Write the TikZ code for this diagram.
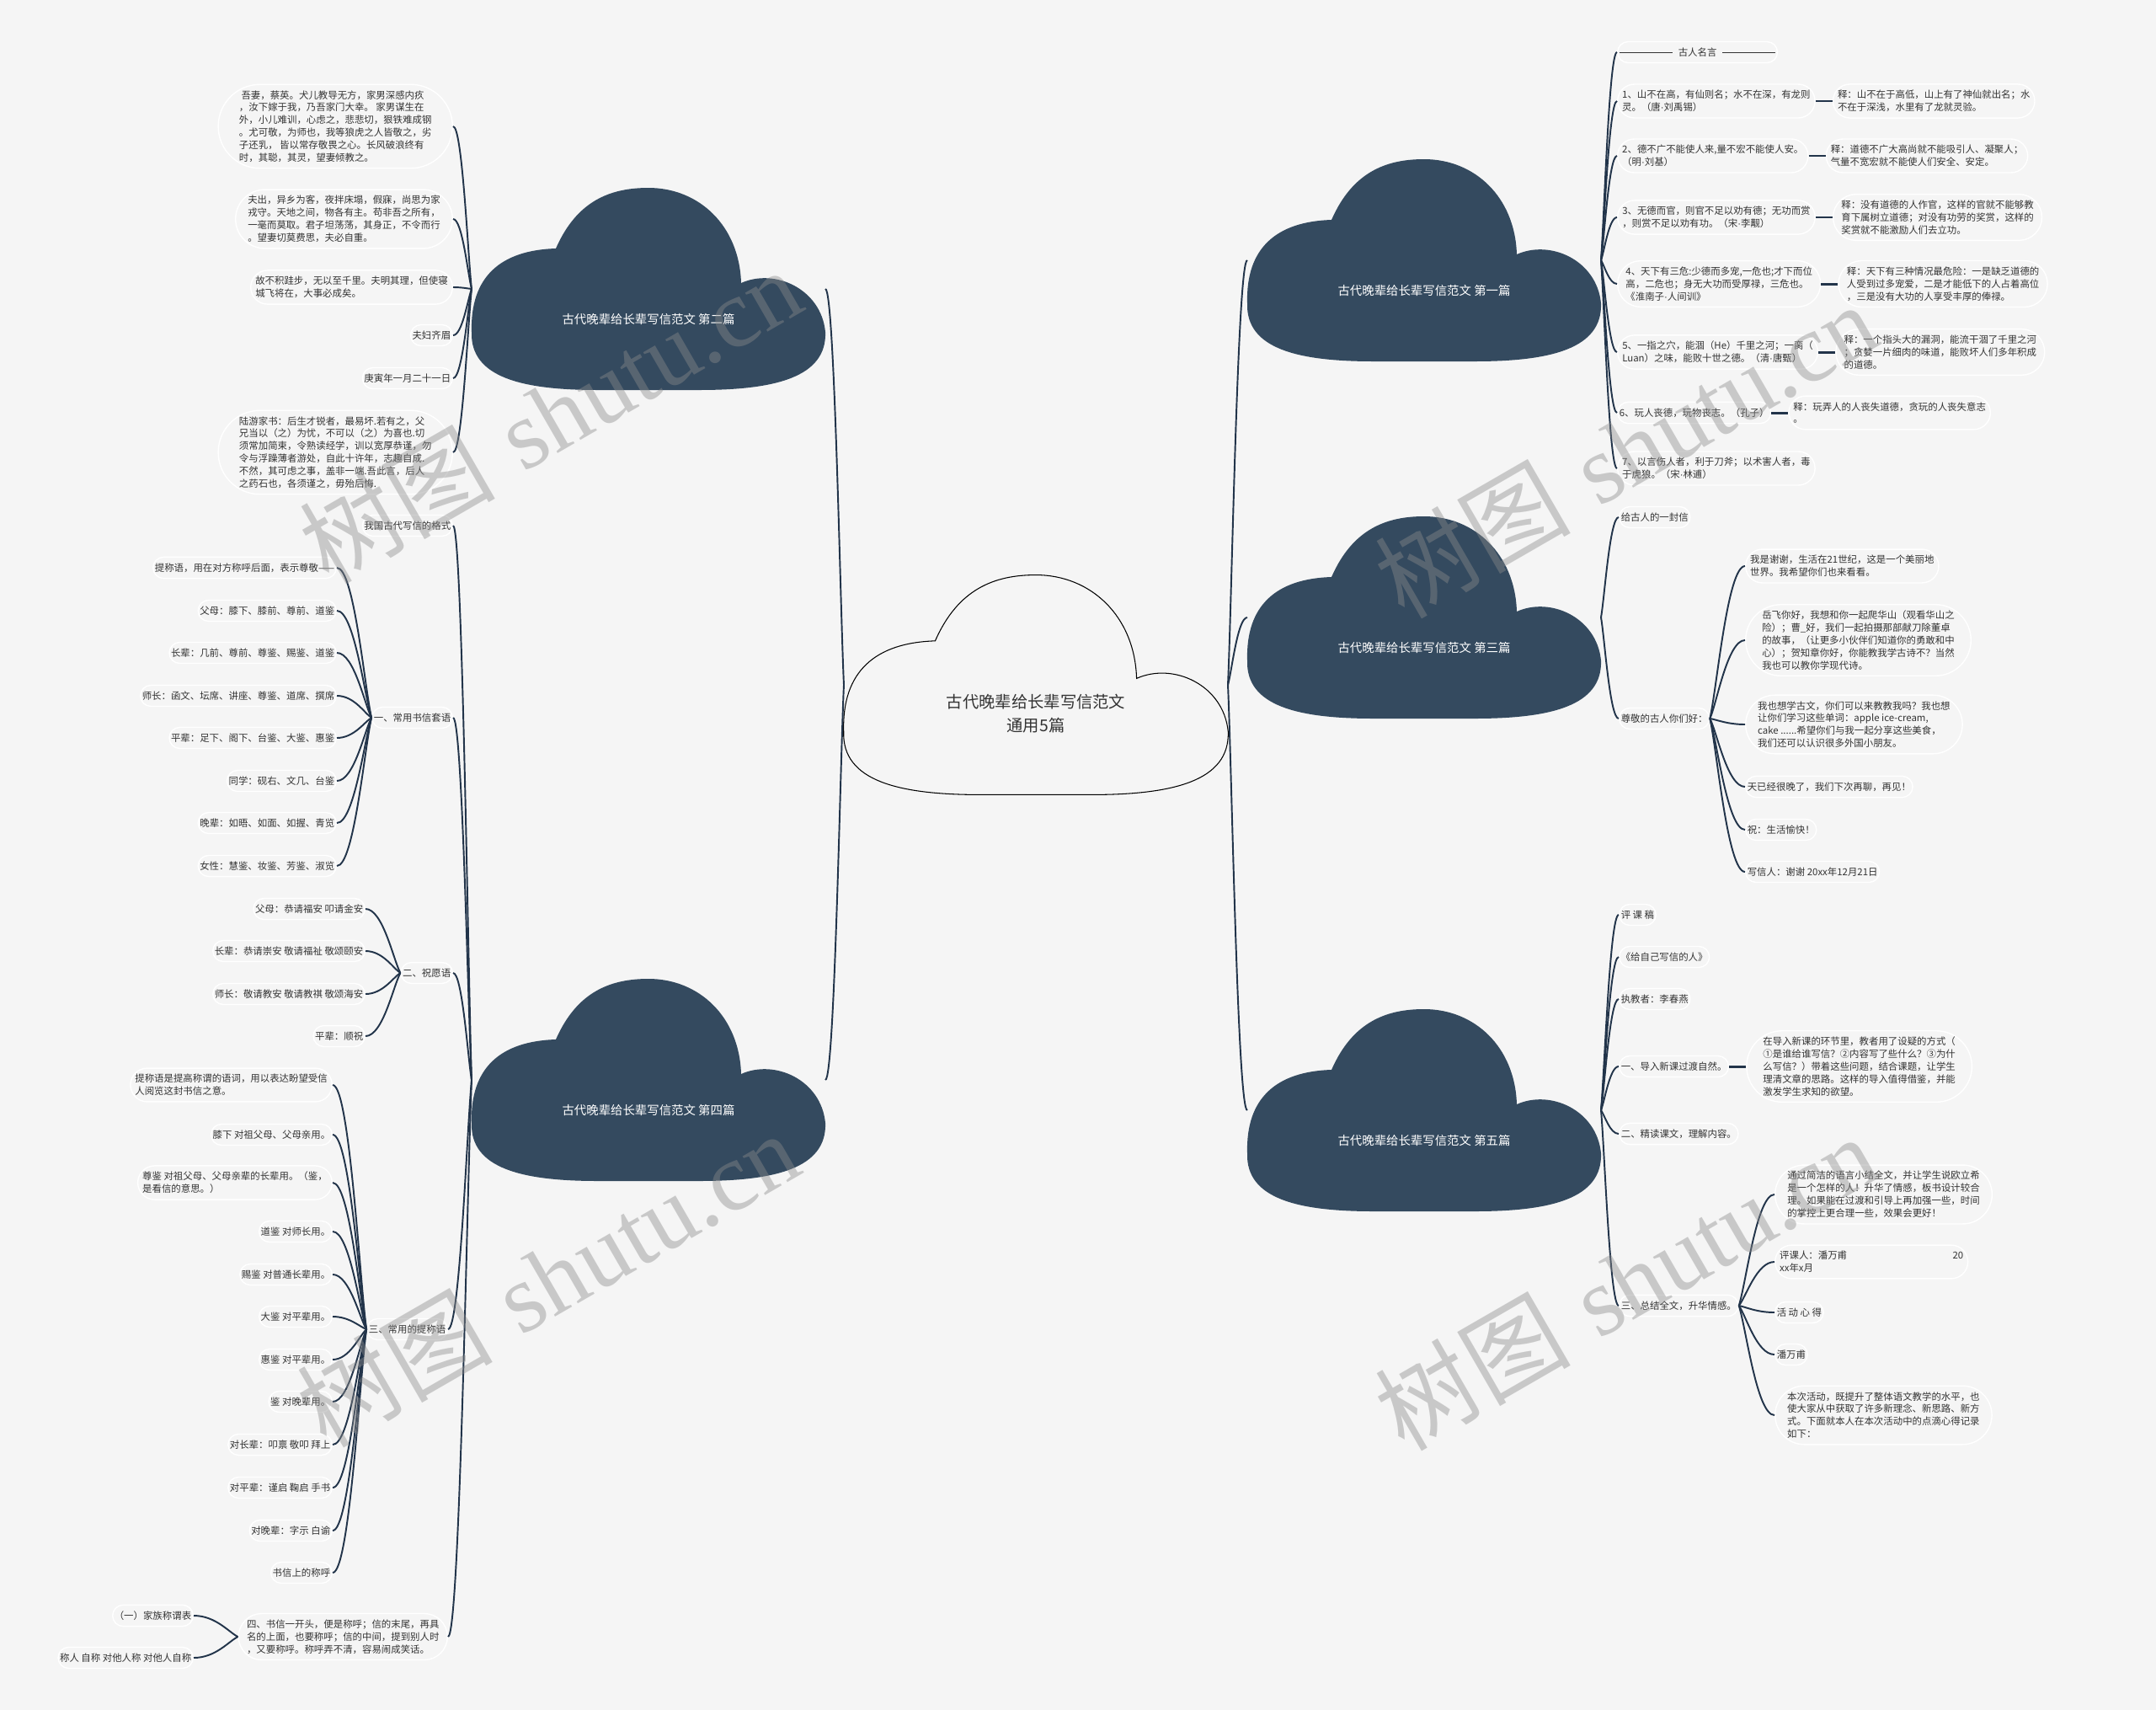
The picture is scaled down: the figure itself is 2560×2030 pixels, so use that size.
\documentclass[tikz,border=0pt]{standalone}
\usepackage{fontspec}
\newfontfamily\cjk{Noto Sans CJK SC}
\newfontfamily\wmserif{Liberation Serif}
\newfontfamily\latinsans{Liberation Sans}
\newcommand\dotsep{{\latinsans ·}}
\usetikzlibrary{shapes,calc,positioning}
\definecolor{bgpaper}{HTML}{F5F5F5}
\definecolor{cloudblue}{HTML}{344A5F}
\definecolor{linkblue}{HTML}{22344A}
\definecolor{inktext}{HTML}{333333}
\tikzset{cloudshape/.pic={
  \path[pic actions] (-110,-48) .. controls (-85,-105) and (-45,-120) .. (0,-120)
    .. controls (60,-120) and (108,-75) .. (110,-7)
    .. controls (150,-25) and (205,0) .. (210,51)
    .. controls (212,105) and (150,120) .. (60,120)
    -- (-60,120)
    .. controls (-150,120) and (-212,105) .. (-210,51)
    .. controls (-212,-15) and (-175,-46) .. (-110,-48) -- cycle;
}}

\begin{document}
\begin{tikzpicture}[x=0.2mm, y=-0.2mm, font=\cjk] % Styles
\tikzstyle{leaf}=[shape=rounded rectangle, draw=white, line width=0.8pt, text=inktext, align=left, inner xsep=0.5pt, inner ysep=4.1pt, font=\cjk\fontsize{6.5pt}{8.45pt}\selectfont]
\tikzstyle{cloudbox}=[inner sep=0pt, outer sep=0pt, minimum width=84mm, minimum height=48mm]
\tikzstyle{cloudtext}=[text=white, font=\cjk\fontsize{8.2pt}{10pt}\selectfont]
\tikzstyle{link}=[draw=linkblue, line width=1.1pt, to path={.. controls ($(\tikztostart)!0.2!(\tikztotarget)$) and ($(\tikztotarget)!0.5!(\tikztotarget -| \tikztostart)$) .. (\tikztotarget)}]
\tikzstyle{tieline}=[draw=linkblue, line width=1.7pt]
\tikzstyle{stamp}=[rotate=30, text=black!45, opacity=0.42, font=\fontsize{66pt}{70pt}\selectfont]
\useasboundingbox (0,0) rectangle (2560,2030);
\fill[bgpaper] (0,0) rectangle (2560,2030);
% Clouds
\pic[scale=1.087, fill=bgpaper, draw=black, line width=0.6pt] at (1230,813) {cloudshape};
\foreach \cx/\cy in {770/343, 770/1282, 1691/309, 1691/733, 1691/1318}
  \pic[fill=cloudblue] at (\cx,\cy) {cloudshape};
\node[cloudbox, minimum width=91.2mm, minimum height=52.2mm] (root) at (1230,813) {};
\node[font=\cjk\fontsize{11pt}{15.9pt}\selectfont, text=inktext, align=center] (roottxt) at (1230,847) {古代晚辈给长辈写信范文\\通用5篇};
\node[cloudbox] (c1) at (1691,309) {};
\node[cloudbox] (c2) at (770,343) {};
\node[cloudbox] (c3) at (1691,733) {};
\node[cloudbox] (c4) at (770,1282) {};
\node[cloudbox] (c5) at (1691,1318) {};
\node[cloudtext] (c1txt) at (1691,345) {古代晚辈给长辈写信范文 第一篇};
\node[cloudtext] (c2txt) at (770,379) {古代晚辈给长辈写信范文 第二篇};
\node[cloudtext] (c3txt) at (1691,769) {古代晚辈给长辈写信范文 第三篇};
\node[cloudtext] (c4txt) at (770,1318) {古代晚辈给长辈写信范文 第四篇};
\node[cloudtext] (c5txt) at (1691,1354) {古代晚辈给长辈写信范文 第五篇};
\foreach \c in {c2,c4} \draw[link] (root.west) to (\c.east);
\foreach \c in {c1,c3,c5} \draw[link] (root.east) to (\c.west);
% Second letter
\node[leaf, anchor=east] (l1) at (538,150) {\ 吾妻，蔡英。犬儿教导无方，家男深感内疚\\，汝下嫁于我，乃吾家门大幸。 家男谋生在\\外，小儿难训，心虑之，悲悲切，狠铁难成钢\\。尤可敬，为师也，我等狼虎之人皆敬之，劣\\子还乳， 皆以常存敬畏之心。长风破浪终有\\时，其聪，其灵，望妻倾教之。};
\node[leaf, anchor=east] (l2) at (538,260) {夫出，异乡为客，夜拌床塌，假寐，尚思为家\\戎守。天地之间，物各有主。苟非吾之所有，\\一毫而莫取。君子坦荡荡，其身正，不令而行\\。望妻切莫费思，夫必自重。};
\node[leaf, anchor=east] (l3) at (538,341) {故不积跬步，无以至千里。夫明其理，但使寝\\城飞将在，大事必成矣。};
\node[leaf, anchor=east] (l4) at (538,398) {夫妇齐眉};
\node[leaf, anchor=east] (l5) at (538,449) {庚寅年一月二十一日};
\node[leaf, anchor=east] (l6) at (538,537) {陆游家书：后生才锐者，最易坏.若有之，父\\兄当以（之）为忧，不可以（之）为喜也.切\\须常加简束，令熟读经学，训以宽厚恭谨，勿\\令与浮躁薄者游处，自此十许年，志趣自成.\\不然，其可虑之事，盖非一端.吾此言，后人\\之药石也，各须谨之，毋殆后悔.};
\foreach \k in {1,...,6} \draw[link] (c2.west) to (l\k.east);
% Fourth letter
\node[leaf, anchor=east] (m0) at (538,624) {我国古代写信的格式};
\node[leaf, anchor=east] (m1) at (538,852) {一、常用书信套语};
\node[leaf, anchor=east] (m2) at (538,1155) {二、祝愿语};
\node[leaf, anchor=east] (m3) at (532,1578) {三、常用的提称语};
\node[leaf, anchor=east] (m4) at (532,1943) {四、书信一开头，便是称呼；信的末尾，再具\\名的上面，也要称呼；信的中间，提到别人时\\，又要称呼。称呼弄不清，容易闹成笑话。};
\foreach \k in {m0,m1,m2,m3,m4} \draw[link] (c4.west) to (\k.east);
\node[leaf, anchor=east] (a1) at (400,674) {提称语，用在对方称呼后面，表示尊敬——};
\node[leaf, anchor=east] (a2) at (400,725) {父母：膝下、膝前、尊前、道鉴};
\node[leaf, anchor=east] (a3) at (400,775) {长辈：几前、尊前、尊鉴、赐鉴、道鉴};
\node[leaf, anchor=east] (a4) at (400,826) {师长：函文、坛席、讲座、尊鉴、道席、撰席};
\node[leaf, anchor=east] (a5) at (400,876) {平辈：足下、阁下、台鉴、大鉴、惠鉴};
\node[leaf, anchor=east] (a6) at (400,927) {同学：砚右、文几、台鉴};
\node[leaf, anchor=east] (a7) at (400,977) {晚辈：如晤、如面、如握、青览};
\node[leaf, anchor=east] (a8) at (400,1028) {女性：慧鉴、妆鉴、芳鉴、淑览};
\foreach \k in {1,...,8} \draw[link] (m1.west) to (a\k.east);
\node[leaf, anchor=east] (b1) at (434,1079) {父母：恭请福安 叩请金安};
\node[leaf, anchor=east] (b2) at (434,1129) {长辈：恭请崇安 敬请福祉 敬颂颐安};
\node[leaf, anchor=east] (b3) at (434,1180) {师长：敬请教安 敬请教祺 敬颂海安};
\node[leaf, anchor=east] (b4) at (434,1230) {平辈：顺祝};
\foreach \k in {1,...,4} \draw[link] (m2.west) to (b\k.east);
\node[leaf, anchor=east] (d1) at (395,1288) {提称语是提高称谓的语词，用以表达盼望受信\\人阅览这封书信之意。};
\node[leaf, anchor=east] (d2) at (395,1347) {膝下 对祖父母、父母亲用。};
\node[leaf, anchor=east] (d3) at (395,1404) {尊鉴 对祖父母、父母亲辈的长辈用。（鉴，\\是看信的意思。）};
\node[leaf, anchor=east] (d4) at (395,1462) {道鉴 对师长用。};
\node[leaf, anchor=east] (d5) at (395,1513) {赐鉴 对普通长辈用。};
\node[leaf, anchor=east] (d6) at (395,1563) {大鉴 对平辈用。};
\node[leaf, anchor=east] (d7) at (395,1614) {惠鉴 对平辈用。};
\node[leaf, anchor=east] (d8) at (395,1664) {鉴 对晚辈用。};
\node[leaf, anchor=east] (d9) at (395,1715) {对长辈：叩禀 敬叩 拜上};
\node[leaf, anchor=east] (d10) at (395,1766) {对平辈：谨启 鞠启 手书};
\node[leaf, anchor=east] (d11) at (395,1817) {对晚辈：字示 白谕};
\node[leaf, anchor=east] (d12) at (395,1867) {书信上的称呼};
\foreach \k in {1,...,12} \draw[link] (m3.west) to (d\k.east);
\node[leaf, anchor=east] (f1) at (230,1918) {（一）家族称谓表};
\node[leaf, anchor=east] (f2) at (230,1968) {称人 自称 对他人称 对他人自称};
\foreach \k in {1,2} \draw[link] (m4.west) to (f\k.east);
% First letter
\node[leaf, anchor=west] (r0) at (1920,62) {\rule[2.2pt]{12.6mm}{0.4pt}\hspace{1.4mm}古人名言\hspace{1.4mm}\rule[2.2pt]{12.6mm}{0.4pt}};
\node[leaf, anchor=west] (q1) at (1920,120) {1、山不在高，有仙则名；水不在深，有龙则\\灵。（唐\dotsep 刘禹锡）};
\node[leaf, anchor=west] (q2) at (1920,185) {2、德不广不能使人来,量不宏不能使人安。\\（明\dotsep 刘基）};
\node[leaf, anchor=west] (q3) at (1920,258) {3、无德而官，则官不足以劝有德；无功而赏\\，则赏不足以劝有功。（宋\dotsep 李觏）};
\node[leaf, anchor=west] (q4) at (1920,337) {4、天下有三危:少德而多宠,一危也;才下而位\\高，二危也；身无大功而受厚禄，三危也。\\《淮南子\dotsep 人间训》};
\node[leaf, anchor=west] (q5) at (1920,418) {5、一指之穴，能涸（He）千里之河；一脔（\\Luan）之味，能败十世之德。（清\dotsep 唐甄）};
\node[leaf, anchor=west] (q6) at (1920,490) {6、玩人丧德，玩物丧志。（孔子）};
\node[leaf, anchor=west] (q7) at (1920,556) {7、以言伤人者，利于刀斧；以术害人者，毒\\于虎狼。（宋\dotsep 林逋）};
\node[leaf, right=4mm of q1] (e1) {释：山不在于高低，山上有了神仙就出名；水\\不在于深浅，水里有了龙就灵验。};
\node[leaf, right=4mm of q2] (e2) {释：道德不广大高尚就不能吸引人、凝聚人；\\气量不宽宏就不能使人们安全、安定。};
\node[leaf, right=4mm of q3] (e3) {释：没有道德的人作官，这样的官就不能够教\\育下属树立道德；对没有功劳的奖赏，这样的\\奖赏就不能激励人们去立功。};
\node[leaf, right=4mm of q4] (e4) {释：天下有三种情况最危险：一是缺乏道德的\\人受到过多宠爱，二是才能低下的人占着高位\\，三是没有大功的人享受丰厚的俸禄。};
\node[leaf, right=4mm of q5] (e5) {释：一个指头大的漏洞，能流干涸了千里之河\\；贪婪一片细肉的味道，能败坏人们多年积成\\的道德。};
\node[leaf, right=4mm of q6] (e6) {释：玩弄人的人丧失道德，贪玩的人丧失意志\\。};
\foreach \k in {r0,q1,q2,q3,q4,q5,q6,q7} \draw[link] (c1.east) to (\k.west);
\foreach \k in {1,...,6} \draw[tieline] (q\k.east) -- (e\k.west);
% Third letter
\node[leaf, anchor=west] (s1) at (1922,614) {给古人的一封信};
\node[leaf, anchor=west] (s2) at (1922,853) {尊敬的古人你们好：};
\foreach \k in {s1,s2} \draw[link] (c3.east) to (\k.west);
\node[leaf, anchor=west] (g1) at (2072,672) {我是谢谢，生活在21世纪，这是一个美丽地\\世界。我希望你们也来看看。};
\node[leaf, anchor=west] (g2) at (2072,760) {岳飞你好，我想和你一起爬华山（观看华山之\\险）；曹\_好，我们一起拍摄那部献刀除董卓\\的故事，（让更多小伙伴们知道你的勇敢和中\\心）；贺知章你好，你能教我学古诗不？当然\\我也可以教你学现代诗。};
\node[leaf, anchor=west] (g3) at (2072,860) {我也想学古文，你们可以来教教我吗？我也想\\让你们学习这些单词：apple ice-cream,\\cake ......希望你们与我一起分享这些美食，\\我们还可以认识很多外国小朋友。};
\node[leaf, anchor=west] (g4) at (2072,934) {天已经很晚了，我们下次再聊，再见！};
\node[leaf, anchor=west] (g5) at (2072,985) {祝：生活愉快！};
\node[leaf, anchor=west] (g6) at (2072,1035) {写信人：谢谢 20xx年12月21日};
\foreach \k in {1,...,6} \draw[link] (s2.east) to (g\k.west);
% Fifth letter
\node[leaf, anchor=west] (t1) at (1922,1086) {评 课 稿};
\node[leaf, anchor=west] (t2) at (1922,1136) {《给自己写信的人》};
\node[leaf, anchor=west] (t3) at (1922,1186) {执教者：李春燕};
\node[leaf, anchor=west] (t4) at (1922,1266) {一、导入新课过渡自然。};
\node[leaf, anchor=west] (t5) at (1922,1346) {二、精读课文，理解内容。};
\node[leaf, anchor=west] (t6) at (1922,1550) {三、总结全文，升华情感。};
\foreach \k in {1,...,6} \draw[link] (c5.east) to (t\k.west);
\node[leaf, right=4mm of t4] (t4a) {在导入新课的环节里，教者用了设疑的方式（\\①是谁给谁写信？②内容写了些什么？③为什\\么写信？）带着这些问题，结合课题，让学生\\理清文章的思路。这样的导入值得借鉴，并能\\激发学生求知的欲望。};
\draw[tieline] (t4.east) -- (t4a.west);
\node[leaf, anchor=west] (h1) at (2107,1418) {通过简洁的语言小结全文，并让学生说欧立希\\是一个怎样的人！升华了情感，板书设计较合\\理。如果能在过渡和引导上再加强一些，时间\\的掌控上更合理一些，效果会更好！};
\node[leaf, anchor=west] (h2) at (2107,1498) {\makebox[43.6mm][l]{评课人：潘万甫\hfill 20}\\xx年x月};
\node[leaf, anchor=west] (h3) at (2107,1558) {活 动 心 得};
\node[leaf, anchor=west] (h4) at (2107,1608) {潘万甫};
\node[leaf, anchor=west] (h5) at (2107,1680) {本次活动，既提升了整体语文教学的水平，也\\使大家从中获取了许多新理念、新思路、新方\\式。下面就本人在本次活动中的点滴心得记录\\如下：};
\foreach \k in {1,...,5} \draw[link] (t6.east) to (h\k.west);
% Watermarks
\node[stamp] (wm1) at (653,493) {{\cjk 树图} {\wmserif shutu.cn}};
\node[stamp] (wm2) at (650,1518) {{\cjk 树图} {\wmserif shutu.cn}};
\node[stamp] (wm3) at (1930,534) {{\cjk 树图} {\wmserif shutu.cn}};
\node[stamp] (wm4) at (1930,1522) {{\cjk 树图} {\wmserif shutu.cn}};
\end{tikzpicture}
\end{document}
